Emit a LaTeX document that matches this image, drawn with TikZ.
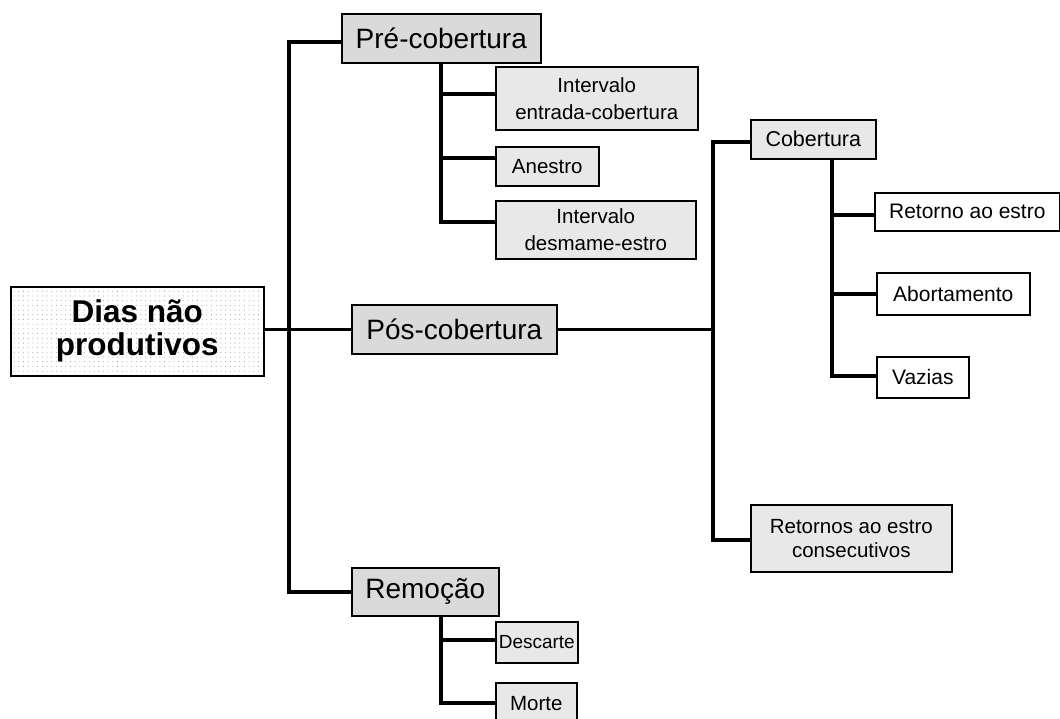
\documentclass[tikz,border=0pt]{standalone}
\usepackage{fontspec}
\setmainfont{Liberation Sans}
\usetikzlibrary{patterns.meta}
\definecolor{maingray}{HTML}{DADADA}
\definecolor{subgray}{HTML}{E8E8E8}
\begin{document}
\begin{tikzpicture}[x=1pt,y=-1pt,
  box/.style={draw=black, line width=1.6pt, inner sep=0pt, anchor=north west, align=center},
  mainbox/.style={box, fill=maingray, font=\fontsize{28}{30}\selectfont},
  subbox/.style={box, fill=subgray, font=\fontsize{20.5}{27}\selectfont},
  whitebox/.style={box, fill=white, font=\fontsize{21}{24}\selectfont},
  rootbox/.style={box, pattern={Dots[distance=4.7pt, radius=0.55pt]}, pattern color=gray!70,
    font=\fontsize{31.5}{33}\selectfont\bfseries},
  conn/.style={draw=black, line width=3.6pt, line cap=rect}
]
\useasboundingbox (0,0) rectangle (1060,719);

% nodes
\node[rootbox, minimum width=253pt, minimum height=89pt] (root) at (10,286) {Dias não\\produtivos};
\node[mainbox, minimum width=199pt, minimum height=49pt] (pre) at (341,13) {Pré-cobertura};
\node[mainbox, minimum width=205pt, minimum height=49pt] (pos) at (351,304) {Pós-cobertura};
\node[mainbox, minimum width=147pt, minimum height=48pt] (rem) at (351,567) {Remoção};

\node[subbox, minimum width=202pt, minimum height=63pt] (iv1) at (495,66) {Intervalo\\entrada-cobertura};
\node[subbox, minimum width=103pt, minimum height=39pt] (ane) at (495,146) {Anestro};
\node[subbox, minimum width=200pt, minimum height=58pt] (iv2) at (495,200) {Intervalo\\desmame-estro};

\node[subbox, minimum width=125pt, minimum height=39pt, font=\fontsize{21.5}{24}\selectfont] (cob) at (750,119) {Cobertura};
\node[whitebox, minimum width=185pt, minimum height=38pt] (ret) at (874,192) {Retorno ao estro};
\node[whitebox, minimum width=153pt, minimum height=42pt] (abo) at (876,272) {Abortamento};
\node[whitebox, minimum width=92pt, minimum height=41pt] (vaz) at (876,356) {Vazias};
\node[subbox, minimum width=201pt, minimum height=67pt, font=\fontsize{20.5}{24}\selectfont] (rc) at (750,504) {Retornos ao estro\\consecutivos};

\node[subbox, minimum width=82pt, minimum height=41pt, font=\fontsize{19}{24}\selectfont] (des) at (495,621) {Descarte};
\node[subbox, minimum width=81pt, minimum height=42pt] (mor) at (495,682) {Morte};

% trunk coordinates
\coordinate (T) at (289,42);
\coordinate (A) at (289,592);
\coordinate (S) at (713,142);
\coordinate (B) at (713,540);
\coordinate (P) at (441,222);
\coordinate (C) at (832,376);
\coordinate (R) at (441,703);

% main trunk
\draw[conn] (T) -- (A);
\draw[conn] (T) -- (T -| pre.west);
\draw[conn] (A) -- (A -| rem.west);
\draw[conn] (root.east |- pos.west) -- (pos.west);

% post-cobertura trunk
\draw[conn] (pos.east) -- (pos.east -| B);
\draw[conn] (S) -- (B);
\draw[conn] (S) -- (S -| cob.west);
\draw[conn] (B) -- (B -| rc.west);

% pre-cobertura children
\draw[conn] (pre.south -| P) -- (P);
\draw[conn] (P) -- (P -| iv2.west);
\draw[conn] ([yshift=4.5pt]iv1.west -| P) -- ([yshift=4.5pt]iv1.west);
\draw[conn] ([yshift=8.5pt]ane.west -| P) -- ([yshift=8.5pt]ane.west);

% cobertura children
\draw[conn] (cob.south -| C) -- (C);
\draw[conn] (C) -- (C -| vaz.west);
\draw[conn] ([yshift=-3pt]ret.west -| C) -- ([yshift=-3pt]ret.west);
\draw[conn] (abo.west -| C) -- (abo.west);

% remocao children
\draw[conn] (rem.south -| R) -- (R);
\draw[conn] (R) -- (R -| mor.west);
\draw[conn] ([yshift=2.5pt]des.west -| R) -- ([yshift=2.5pt]des.west);
\end{tikzpicture}
\end{document}
